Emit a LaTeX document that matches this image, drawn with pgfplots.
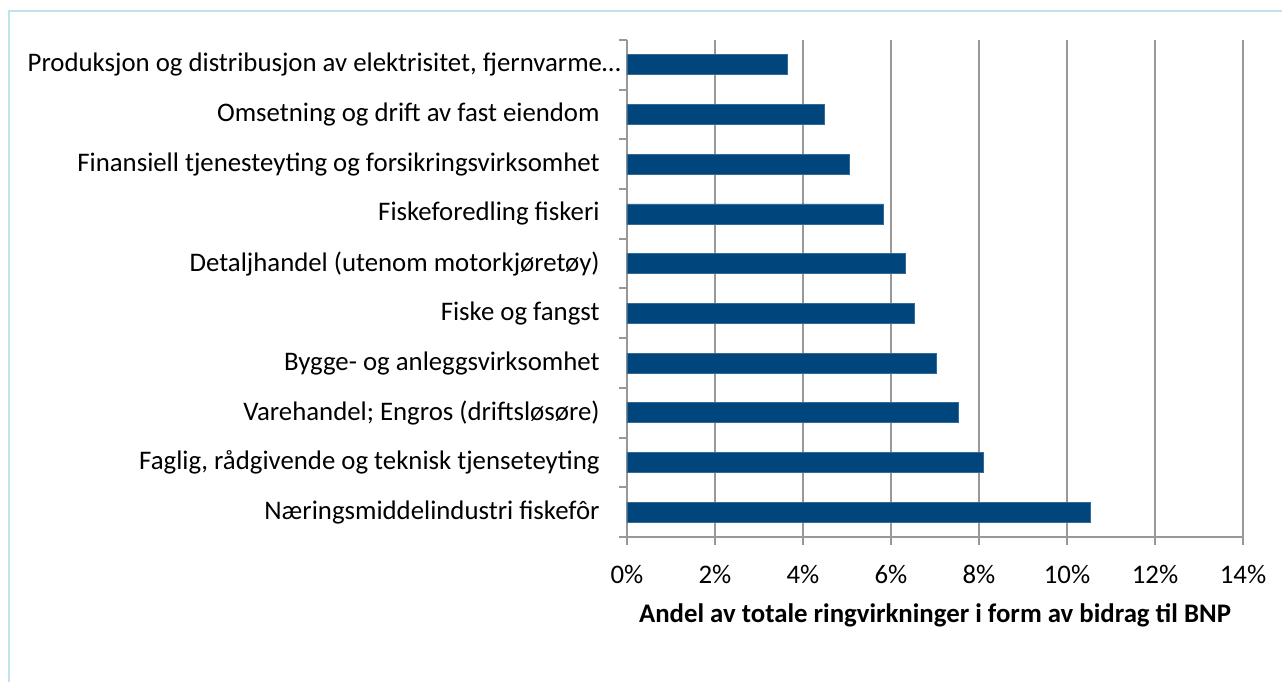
\documentclass[border=0pt]{standalone}
\usepackage{pgfplots}
\pgfplotsset{compat=1.18}
\usepackage{fontspec}
\setmainfont{Carlito}
\definecolor{barblue}{HTML}{00467C}
\definecolor{gridgray}{HTML}{989898}
\definecolor{framecol}{HTML}{BFE3EC}
\begin{document}
\fontsize{13.4}{16}\selectfont
\begin{tikzpicture}
\useasboundingbox (0,0) rectangle (641pt,341pt);
\draw[framecol, line width=0.6pt] (4.5pt,0pt) -- (4.5pt,335.5pt) -- (641pt,335.5pt);
\begin{axis}[
  at={(313.5pt,72.5pt)}, anchor=south west,
  scale only axis, width=308pt, height=248.5pt,
  xbar, bar width=10pt,
  xmin=0, xmax=14, ymin=-0.5, ymax=9.5,
  axis x line*=bottom, axis y line*=left,
  axis line style={gridgray, line width=1pt, -},
  xtick={0,2,...,14},
  xticklabels={0\%,2\%,4\%,6\%,8\%,10\%,12\%,14\%},
  xmajorgrids=true,
  major grid style={gridgray, line width=1pt},
  tick align=outside, major tick length=4pt,
  tick style={gridgray, line width=1pt},
  ytick={-0.5,0.5,...,9.5},
  yticklabels={},
  extra y ticks={0,1,2,3,4,5,6,7,8,9},
  extra y tick labels={Næringsmiddelindustri fiskefôr,Faglig{,} rådgivende og teknisk tjenseteyting,Varehandel; Engros (driftsløsøre),Bygge- og anleggsvirksomhet,Fiske og fangst,Detaljhandel (utenom motorkjøretøy),Fiskeforedling fiskeri,Finansiell tjenesteyting og forsikringsvirksomhet,Omsetning og drift av fast eiendom,Produksjon og distribusjon av elektrisitet{,} fjernvarme…\hspace*{-10.5pt}},
  extra y tick style={tick style={draw=none}, grid=none},
  yticklabel style={inner sep=0pt, xshift=-9.5pt, font=\fontsize{13.4}{16}\selectfont},
  xticklabel style={inner sep=0pt, yshift=-10pt, font=\fontsize{13.4}{16}\selectfont},
  xlabel={Andel av totale ringvirkninger i form av bidrag til BNP},
  xlabel style={font=\fontsize{13.4}{16}\selectfont\bfseries, inner sep=0pt, yshift=-9.7pt},
]
\addplot[fill=barblue, draw=barblue!80!white, line width=0.4pt] coordinates {
  (10.54,0) (8.10,1) (7.53,2) (7.03,3) (6.54,4) (6.33,5) (5.83,6) (5.05,7) (4.48,8) (3.64,9)
};
\end{axis}
\end{tikzpicture}
\end{document}
